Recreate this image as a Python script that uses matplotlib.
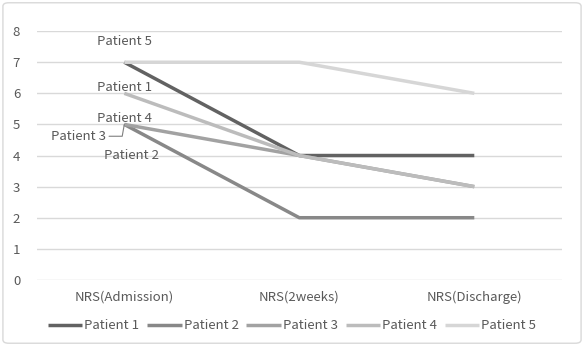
import matplotlib.pyplot as plt
from matplotlib.patches import FancyBboxPatch

plt.rcParams['font.family'] = ['Noto Sans CJK KR', 'DejaVu Sans']

categories = ['NRS(Admission)', 'NRS(2weeks)', 'NRS(Discharge)']
patients = ['Patient 1', 'Patient 2', 'Patient 3', 'Patient 4', 'Patient 5']
p1 = [7, 4, 4]
p2 = [5, 2, 2]
p3 = [5, 4, 3]
p4 = [6, 4, 3]
p5 = [7, 7, 6]
series = [p1, p2, p3, p4, p5]
colors = ['#626262', '#888888', '#a2a2a2', '#bcbcbc', '#d6d6d6']

fig = plt.figure(figsize=(5.84, 3.46), dpi=100)
ax = fig.add_axes([0.063, 0.191, 0.899, 0.719])

x = range(len(categories))
for name, vals, c in zip(patients, series, colors):
    ax.plot(x, vals, color=c, lw=2.5, label=name, solid_capstyle='butt')

ax.set_xlim(-0.5, 2.5)
ax.set_ylim(0, 8)
ax.set_yticks(range(0, 9))
ax.set_xticks(list(x))
ax.set_xticklabels(categories)
ax.tick_params(length=0, labelsize=9.5, colors='#595959', pad=8)
ax.tick_params(axis='y', pad=12)
ax.grid(axis='y', color='#d9d9d9', lw=1)
ax.set_axisbelow(True)
for s in ax.spines.values():
    s.set_visible(False)

# data labels (positions as in the original chart)
lab_style = dict(fontsize=9.5, color='#595959', ha='center', va='center')
ax.text(0, 7.68, 'Patient 5', **lab_style)
ax.text(0, 6.2, 'Patient 1', **lab_style)
ax.text(0, 5.2, 'Patient 4', **lab_style)
ax.text(0.04, 4.0, 'Patient 2', **lab_style)
ax.annotate('Patient 3', xy=(0, 5), xytext=(-0.26, 4.62), fontsize=9.5, color='#595959',
            ha='center', va='center',
            arrowprops=dict(arrowstyle='-', color='#7f7f7f', lw=0.8,
                            connectionstyle='angle,angleA=0,angleB=80,rad=0',
                            shrinkA=22, shrinkB=0))

fig.legend(loc='lower center', bbox_to_anchor=(0.5, 0.005), ncol=5, frameon=False,
           fontsize=9.5, handlelength=2.6, columnspacing=0.6, handletextpad=0.15,
           labelcolor='#595959')

fig.patches.append(FancyBboxPatch((0.005, 0.008), 0.99, 0.984, boxstyle='round,pad=0,rounding_size=0.01',
                                  transform=fig.transFigure, fill=False, ec='#d9d9d9', lw=1))

fig.savefig('out.png', dpi=100)
